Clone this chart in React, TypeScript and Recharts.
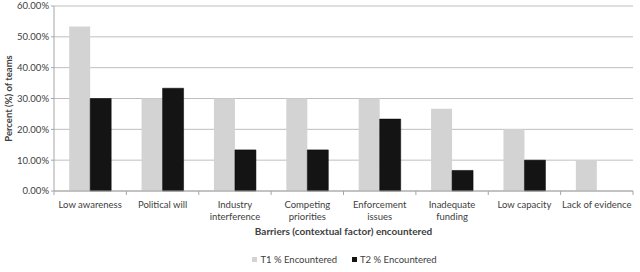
import React from "react";
import { BarChart, Bar, XAxis, YAxis, CartesianGrid, Legend, Label } from "recharts";

const categories = [
  "Low awareness",
  "Political will",
  "Industry interference",
  "Competing priorities",
  "Enforcement issues",
  "Inadequate funding",
  "Low capacity",
  "Lack of evidence",
];
const tickLabelLines = [
  ["Low awareness"],
  ["Political will"],
  ["Industry", "interference"],
  ["Competing", "priorities"],
  ["Enforcement", "issues"],
  ["Inadequate", "funding"],
  ["Low capacity"],
  ["Lack of evidence"],
];
const t1Encountered = [53.33, 30, 30, 30, 30, 26.67, 20, 10];
const t2Encountered = [30, 33.33, 13.33, 13.33, 23.33, 6.67, 10, 0];
const yTicks = [0, 10, 20, 30, 40, 50, 60];

const FONT = "Lato, 'Liberation Sans', sans-serif";
const W = 640;
const H = 272;
const MARGIN = { top: 6, right: 7, left: 0, bottom: 2 };
const Y_WIDTH = 54;
const BAND = (W - MARGIN.left - MARGIN.right - Y_WIDTH) / categories.length;

const data = categories.map((c, i) => ({
  name: c,
  t1: t1Encountered[i],
  t2: t2Encountered[i],
}));

function XTick(props: any) {
  const { x, y, index } = props;
  const lines = tickLabelLines[index] || [];
  const axisY = y - 10;
  return (
    <g>
      <line x1={x - BAND / 2} x2={x - BAND / 2} y1={axisY} y2={axisY + 4} stroke="#a6a6a6" />
      {index === categories.length - 1 && (
        <line x1={x + BAND / 2} x2={x + BAND / 2} y1={axisY} y2={axisY + 4} stroke="#a6a6a6" />
      )}
      <text x={x} y={y} textAnchor="middle" fontSize={9.5} fill="#404040" fontFamily={FONT}>
        {lines.map((l, i) => (
          <tspan key={i} x={x} dy={i === 0 ? 7 : 12}>
            {l}
          </tspan>
        ))}
      </text>
    </g>
  );
}

function LegendContent() {
  const items = [
    { label: "T1 % Encountered", color: "#d3d3d3" },
    { label: "T2 % Encountered", color: "#141414" },
  ];
  return (
    <div
      style={{
        height: 24,
        paddingLeft: 56,
        paddingTop: 3,
        boxSizing: "border-box",
        display: "flex",
        justifyContent: "center",
        alignItems: "center",
        gap: 15,
        fontFamily: FONT,
        fontSize: 9.5,
        color: "#404040",
      }}
    >
      {items.map((it) => (
        <span key={it.label} style={{ display: "flex", alignItems: "center", gap: 3 }}>
          <span style={{ width: 5, height: 5, background: it.color, display: "inline-block" }} />
          {it.label}
        </span>
      ))}
    </div>
  );
}

export default function App() {
  return (
    <div style={{ position: "absolute", left: 0, top: 0, background: "#fff" }}>
      <BarChart
        width={W}
        height={H}
        data={data}
        margin={MARGIN}
        barCategoryGap="21%"
        barGap={0}
      >
        <CartesianGrid vertical={false} stroke="#bfbfbf" />
        <XAxis
          dataKey="name"
          interval={0}
          height={55}
          tickLine={false}
          tickSize={4}
          tickMargin={6}
          stroke="#a6a6a6"
          tick={<XTick />}
        >
          <Label
            value="Barriers (contextual factor) encountered"
            position="insideBottom"
            offset={11}
            style={{ fontFamily: FONT, fontSize: 10, fontWeight: 700, fill: "#404040" }}
          />
        </XAxis>
        <YAxis
          width={Y_WIDTH}
          domain={[0, 60]}
          ticks={yTicks}
          tickSize={3}
          tickMargin={2}
          stroke="#a6a6a6"
          tick={{ fontFamily: FONT, fontSize: 9.5, fill: "#404040" }}
          tickFormatter={(v: number) => `${v.toFixed(2)}%`}
        >
          <Label
            content={(p: any) => {
              const vb = p.viewBox;
              const cx = 8;
              const cy = vb.y + vb.height / 2;
              return (
                <text
                  x={cx}
                  y={cy}
                  transform={`rotate(-90 ${cx} ${cy})`}
                  textAnchor="middle"
                  dominantBaseline="central"
                  fontFamily={FONT}
                  fontSize={9.5}
                  fontWeight={700}
                  fill="#404040"
                >
                  Percent (%) of teams
                </text>
              );
            }}
          />
        </YAxis>
        <Legend verticalAlign="bottom" content={<LegendContent />} />
        <Bar dataKey="t1" name="T1 % Encountered" fill="#d3d3d3" isAnimationActive={false} />
        <Bar dataKey="t2" name="T2 % Encountered" fill="#141414" stroke="#000" strokeWidth={0.5} isAnimationActive={false} />
      </BarChart>
    </div>
  );
}
